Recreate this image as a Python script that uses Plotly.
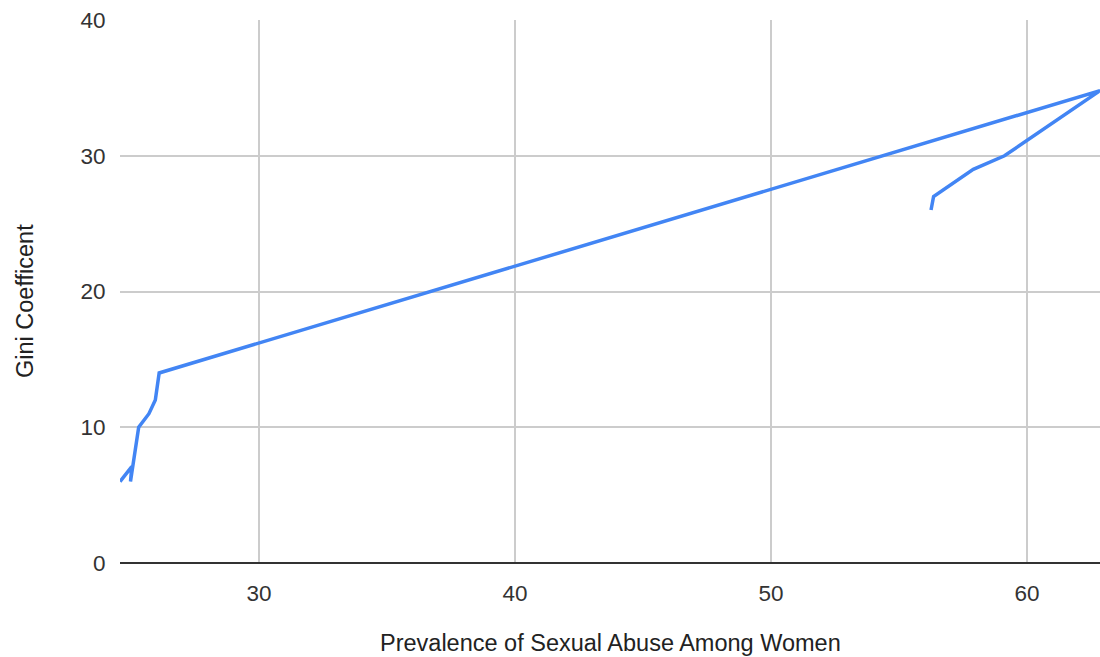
import plotly.graph_objects as go

prevalence = [24.57, 25.03, 24.98, 25.30, 25.70, 25.95, 26.10, 62.85, 59.12, 57.90, 56.35, 56.25]
gini = [6.0, 7.1, 6.0, 10.0, 11.0, 12.0, 14.0, 34.8, 30.0, 29.0, 27.0, 26.0]
x_ticks = [30, 40, 50, 60]
y_ticks = [0, 10, 20, 30, 40]

fig = go.Figure()
fig.add_trace(go.Scatter(
    x=prevalence, y=gini, mode="lines",
    line=dict(color="#4285F4", width=3.5),
    hoverinfo="skip", showlegend=False,
))

font_family = "Liberation Sans, Arial, sans-serif"
fig.update_layout(
    width=1100, height=657,
    margin=dict(l=120, r=0, t=20, b=94),
    paper_bgcolor="white", plot_bgcolor="white",
    font=dict(family=font_family, size=22, color="#333"),
    xaxis=dict(
        range=[min(prevalence), max(prevalence)],
        tickvals=x_ticks, showgrid=True, gridcolor="#cccccc", gridwidth=1.5,
        zeroline=False, showline=False,
        ticks="outside", ticklen=10, tickcolor="rgba(0,0,0,0)",
        tickfont=dict(size=22.5, color="#333"),
    ),
    yaxis=dict(
        range=[0, 40], tickvals=y_ticks,
        showgrid=True, gridcolor="#cccccc", gridwidth=1.5,
        zeroline=True, zerolinecolor="#333333", zerolinewidth=2.3,
        showline=False,
        ticks="outside", ticklen=9, tickcolor="rgba(0,0,0,0)",
        tickfont=dict(size=22.5, color="#333"),
    ),
    annotations=[
        dict(text="Prevalence of Sexual Abuse Among Women", xref="paper", yref="paper",
             x=0.5, y=0, yshift=-80, xanchor="center", yanchor="middle",
             showarrow=False, font=dict(family=font_family, size=23.5, color="#222")),
        dict(text="Gini Coefficent", xref="paper", yref="paper",
             x=0, xshift=-95, y=0.4825, xanchor="center", yanchor="middle",
             textangle=-90, showarrow=False,
             font=dict(family=font_family, size=23.5, color="#222")),
    ],
)

fig.write_html("out.html")
